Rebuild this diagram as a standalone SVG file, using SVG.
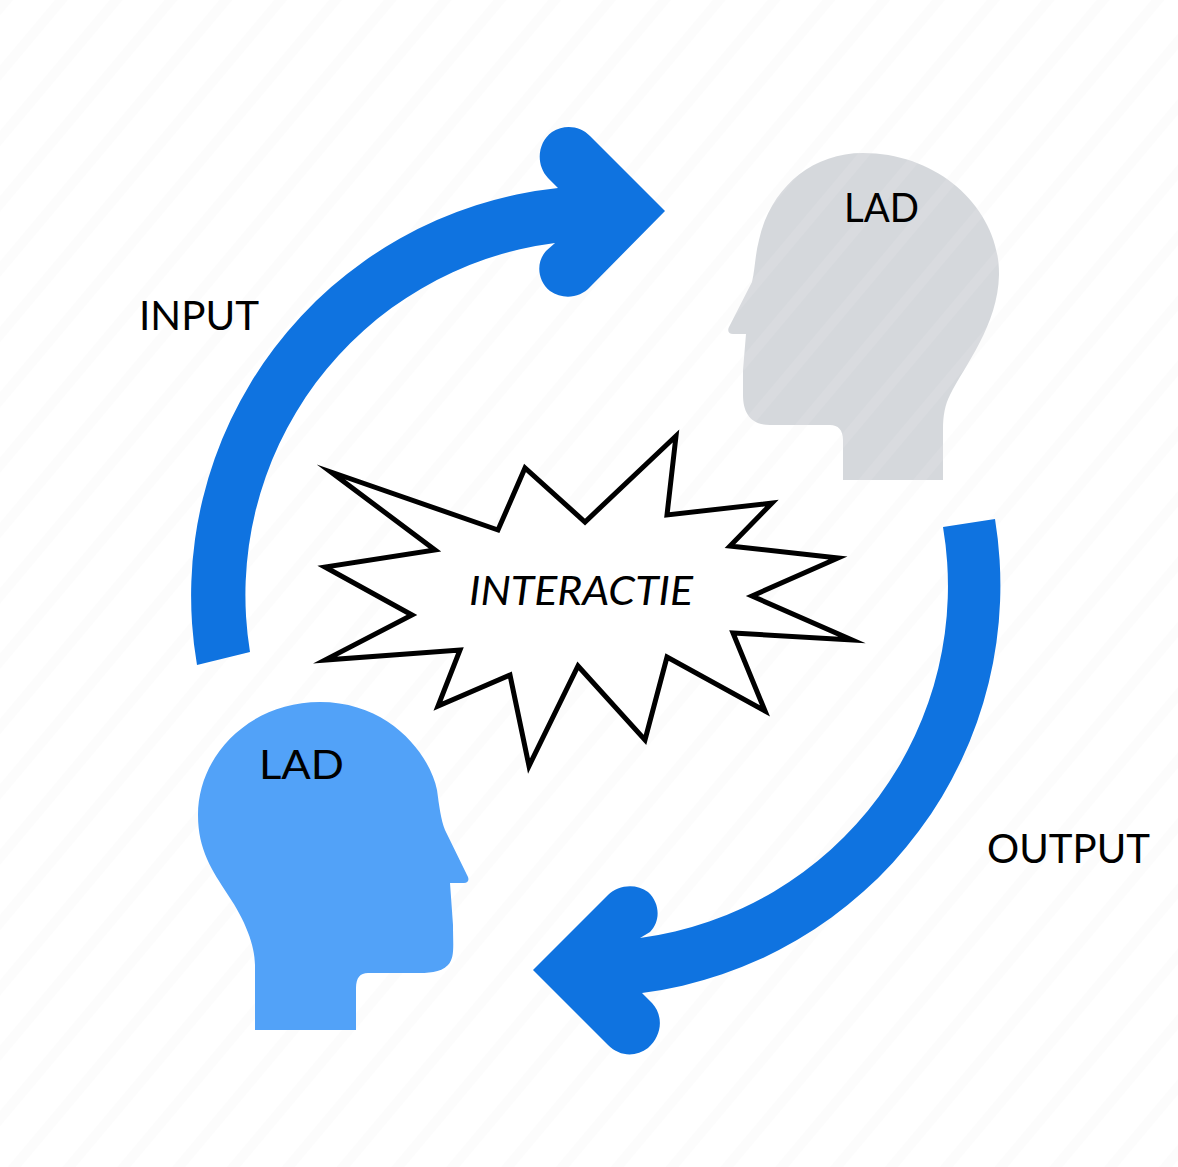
<svg xmlns="http://www.w3.org/2000/svg" width="1178" height="1167" viewBox="0 0 1178 1167">
<style>
.t{font-family:"Lato","Open Sans","Liberation Sans",sans-serif;font-size:41px;fill:#000}
.arrow{fill:#0f73e0}
</style>
<defs>
<pattern id="stripes" width="42" height="42" patternUnits="userSpaceOnUse" patternTransform="rotate(-50)">
<rect width="42" height="42" fill="#ffffff"/>
<rect width="42" height="10" fill="#fcfcfc"/>
</pattern>
<pattern id="greystripes" width="42" height="42" patternUnits="userSpaceOnUse" patternTransform="rotate(-50)">
<rect width="42" height="42" fill="#d5d8dc"/>
<rect width="42" height="10" fill="#d9dbdf"/>
</pattern>
</defs>
<rect id="background" width="1178" height="1167" fill="url(#stripes)"/>
<g id="connectors">
<path id="input-arrow" class="arrow" d="M197 665 A410 410 0 0 1 558 188 L548 178 C535 164 538 142 552 132 C565 124 580 126 590 136 L665 211 L590 287 C580 298 563 300 550 291 C537 280 536 262 546 251 L555 243 A355 355 0 0 0 250 652 Z"/>
<path id="output-arrow" class="arrow" d="M995 519 A411 411 0 0 1 642 993 L652 1003 C664 1016 662 1036 648 1048 C636 1057 620 1057 608 1045 L533 970 L608 895 C618 885 636 883 648 892 C661 904 660 922 650 932 L640 938 A355 355 0 0 0 943 527 Z"/>
</g>
<g id="head-listener">
<path fill="url(#greystripes)" d="M863 153 C940 153 1000 210 999 275 C998 325 965 365 950 395 C945 405 943 415 943 430 L943 480 L843 480 L843 440 C843 430 838 425 830 425 L770 425 C750 425 743 412 743 395 L743 370 L746 334 L733 334 C729 334 727 331 729 327 L752 282 C755 270 755 255 759 240 C770 190 810 153 863 153 Z"/>
<text class="t" x="844" y="222" textLength="75" lengthAdjust="spacingAndGlyphs">LAD</text>
</g>
<g id="head-speaker">
<path fill="#52a2f8" d="M320 702 C390 702 430 755 437 790 C439 805 441 820 445 830 L467 875 C470 880 468 883 464 883 L450 883 L453 925 C453 945 455 958 448 965 C440 973 428 973 415 973 L368 973 C360 973 356 978 356 988 L356 1030 L255 1030 L255 965 C255 945 245 920 228 895 C212 870 198 850 198 815 C198 755 250 702 320 702 Z"/>
<text class="t" x="259" y="779" textLength="85" lengthAdjust="spacingAndGlyphs">LAD</text>
</g>
<g id="interactie">
<path fill="#fff" stroke="#000" stroke-width="5" stroke-miterlimit="30" d="M331 472 L498 530 L525 468 L585 522 L676 436 L667 515 L772 503 L730 546 L838 558 L752 596 L852 640 L733 633 L765 711 L667 657 L645 740 L578 666 L529 766 L510 675 L438 706 L460 650 L325 660 L412 615 L325 567 L435 550 Z"/>
<text x="581" y="605" text-anchor="middle" class="t" textLength="224" lengthAdjust="spacingAndGlyphs" style="font-style:italic">INTERACTIE</text>
</g>
<g id="labels">
<text class="t" x="139" y="330" textLength="120" lengthAdjust="spacingAndGlyphs">INPUT</text>
<text class="t" x="987" y="863" textLength="163" lengthAdjust="spacingAndGlyphs">OUTPUT</text>
</g>
</svg>
